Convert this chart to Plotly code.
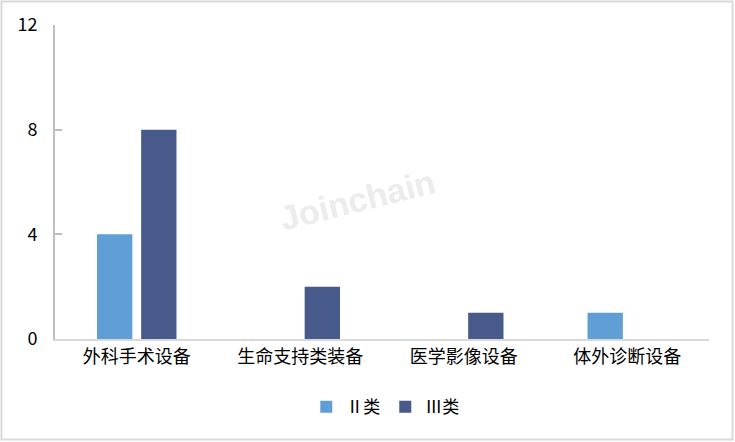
import plotly.graph_objects as go

categories = ["外科手术设备", "生命支持类装备", "医学影像设备", "体外诊断设备"]
series_names = ["Ⅱ类", "Ⅲ类"]
class2 = [4, 0, 0, 1]
class3 = [8, 2, 1, 0]
y_ticks = [0, 4, 8, 12]

colors = ["#5f9fd6", "#475a8a"]

W, H = 735, 442
L, R, T, B = 55, 26, 25, 103
pw, ph = W - L - R, H - T - B

fig = go.Figure()
for name, vals, c in zip(series_names, [class2, class3], colors):
    fig.add_trace(go.Bar(x=categories, y=vals, name=name, marker=dict(color=c, line=dict(width=0))))

font = "Microsoft YaHei, Noto Sans CJK SC, sans-serif"
fig.update_layout(
    width=W, height=H,
    margin=dict(l=L, r=R, t=T, b=B, autoexpand=False),
    paper_bgcolor="white", plot_bgcolor="white",
    barmode="group", bargap=0.46, bargroupgap=0.2,
    font=dict(family=font, size=18, color="#000000"),
    showlegend=True,
    legend=dict(orientation="h", x=0.505, xanchor="center", y=-0.16, yanchor="top",
                font=dict(size=17, family=font), itemwidth=30, traceorder="normal"),
    xaxis=dict(showline=True, linecolor="#d9d9d9", linewidth=2, ticks="",
               tickfont=dict(size=18, family=font), showgrid=False, automargin=False),
    yaxis=dict(range=[0, 12], tickvals=y_ticks, showline=True, linecolor="#bfbfbf", linewidth=2,
               ticks="inside", ticklen=7, tickcolor="#bfbfbf", tickwidth=2,
               showgrid=False, zeroline=False, tickfont=dict(size=18, family=font),
               ticklabelstandoff=12, automargin=False),
    shapes=[dict(type="rect", xref="paper", yref="paper",
                 x0=(1.5 - L) / pw, x1=(732.5 - L) / pw,
                 y0=(T + ph - 439.5) / ph, y1=(T + ph - 1.5) / ph,
                 line=dict(color="#d9d9d9", width=2), fillcolor="rgba(0,0,0,0)", layer="below")],
    annotations=[dict(text="<b>Joinchain</b>", xref="paper", yref="paper",
                      x=(357 - L) / pw, y=(T + ph - 200) / ph, showarrow=False,
                      textangle=-14, font=dict(size=34, color="#ececec", family="Arial, Liberation Sans"))],
)
fig.write_html("out.html", config={"displayModeBar": False},
               post_script="document.body.style.margin='0';document.body.style.overflow='hidden';")
